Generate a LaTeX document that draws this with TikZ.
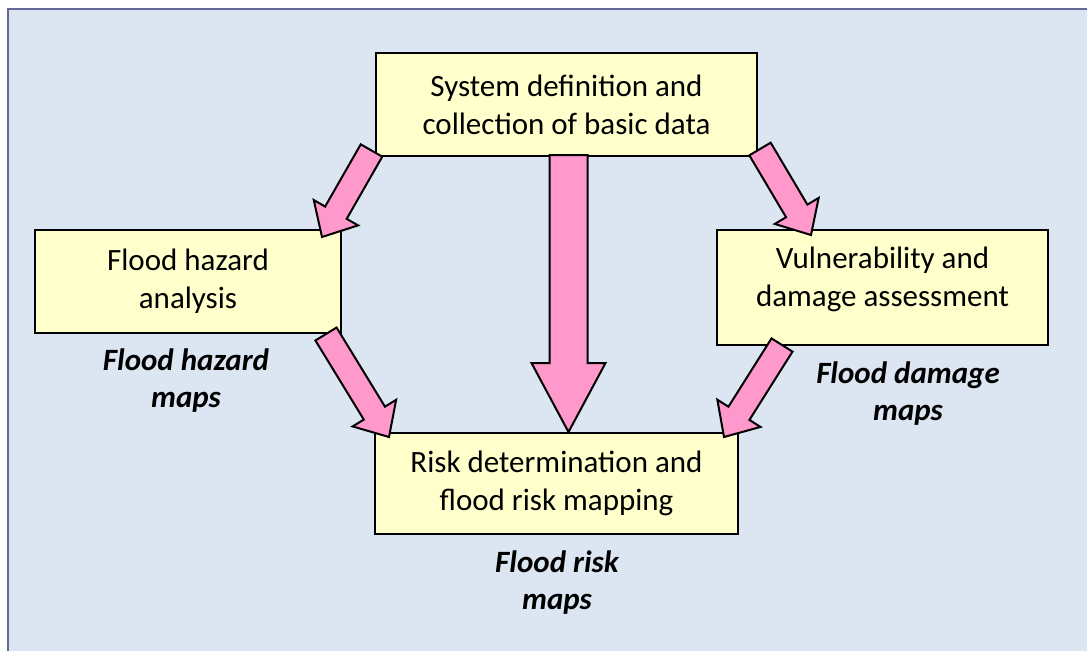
\documentclass[tikz,border=0pt]{standalone}
\usepackage{fontspec}
\setmainfont{Carlito}
\usetikzlibrary{positioning, calc}

\definecolor{bgblue}{HTML}{DCE6F2}
\definecolor{framecol}{HTML}{666699}
\definecolor{boxyellow}{HTML}{FFFFCC}
\definecolor{arrowpink}{HTML}{FF99CC}

\tikzset{
  stepbox/.style={draw=black, line width=1pt, fill=boxyellow, align=center,
    font=\fontsize{15.5}{19}\selectfont, inner sep=0pt},
  maplabel/.style={align=center, font=\fontsize{15.5}{18.5}\selectfont\bfseries\itshape},
  pinkarrow/.style={draw=black, line width=1pt, fill=arrowpink, line join=miter},
}

% block arrow: tail, tip, half shaft, half head, head length
\newcommand{\blockarrow}[5]{%
  \coordinate (hb) at ($(#2)!#5!(#1)$);
  \draw[pinkarrow] ($(#1)!#3!90:(#2)$) -- ($(hb)!#3!90:(#2)$) -- ($(hb)!#4!90:(#2)$)
    -- (#2) -- ($(hb)!#4!-90:(#2)$) -- ($(hb)!#3!-90:(#2)$) -- ($(#1)!#3!-90:(#2)$) -- cycle;
}

\begin{document}
\begin{tikzpicture}[x=0.5pt, y=-0.5pt]
\useasboundingbox (0,0) rectangle (1087,650);
\draw[framecol, line width=1pt, fill=bgblue] (8,9) rectangle (1110,670);

\node[stepbox, minimum width=190.5pt, minimum height=51.5pt] (sys) at (566.5,104.5) {System definition and\\collection of basic data};
\node[stepbox, minimum width=153pt, minimum height=51.5pt] (haz) at (188,281.5) {Flood hazard\\analysis};
\node[stepbox, minimum width=165.5pt, minimum height=57.5pt, text depth=11pt] (vul) at (882.5,287.5) {Vulnerability and\\damage assessment};
\node[stepbox, minimum width=181.5pt, minimum height=50.5pt] (risk) at (556.5,483.5) {Risk determination and\\flood risk mapping};

\node[maplabel] (hazmaps) at (186,381) {Flood hazard\\maps};
\node[maplabel] (dmgmaps) at (908,394) {Flood damage\\maps};
\node[maplabel] (riskmaps) at (557,583) {Flood risk\\maps};

\coordinate (a1) at ([shift={(-3.5,-6.5)}]sys.south west);
\coordinate (b1) at ([shift={(-20,8)}]haz.north east);
\coordinate (a2) at ([shift={(-16,0)}]haz.south east);
\coordinate (b2) at ([shift={(15,5)}]risk.north west);
\coordinate (a3) at ([shift={(2,-2)}]sys.south);
\coordinate (b3) at (a3 |- risk.north);
\coordinate (a4) at ([shift={(2,-8)}]sys.south east);
\coordinate (b4) at ([shift={(95,6)}]vul.north west);
\coordinate (a5) at ([shift={(66,-1)}]vul.south west);
\coordinate (b5) at ([shift={(-15,5)}]risk.north east);

\blockarrow{a1}{b1}{6.2pt}{12.75pt}{14pt}
\blockarrow{a2}{b2}{6.2pt}{12.75pt}{14pt}
\blockarrow{a3}{b3}{9.5pt}{18.5pt}{34.5pt}
\blockarrow{a4}{b4}{6.2pt}{12.75pt}{14pt}
\blockarrow{a5}{b5}{6.2pt}{12.75pt}{14pt}
\end{tikzpicture}
\end{document}
